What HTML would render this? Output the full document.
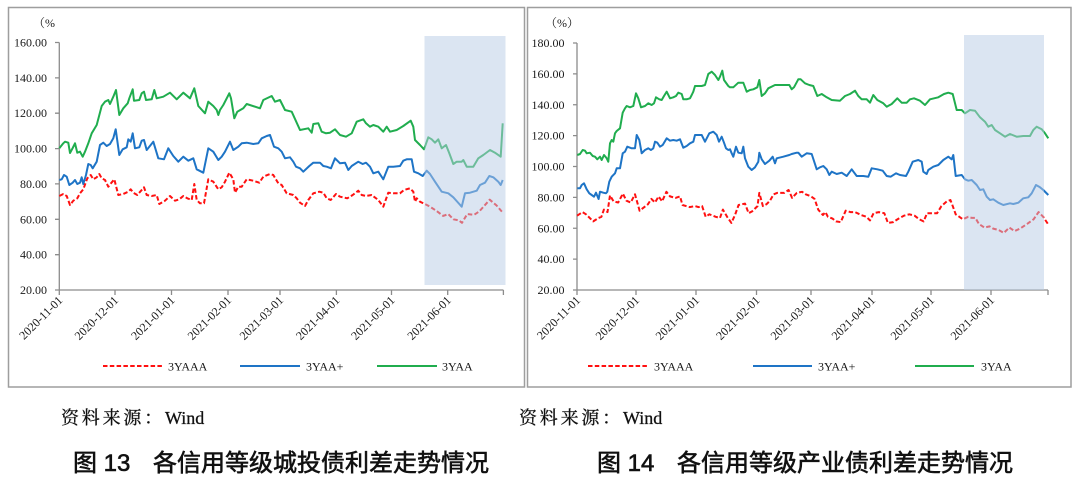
<!DOCTYPE html>
<html><head><meta charset="utf-8"><style>
html,body{margin:0;padding:0;background:#fff;}
svg{display:block;}
.t{font-family:"Liberation Serif","Noto Serif CJK SC",serif;font-size:12px;fill:#1a1a1a;}
.src{font-family:"Liberation Serif","Noto Serif CJK SC",serif;font-size:18px;fill:#111;stroke:#111;stroke-width:0.3px;}
.cap{font-family:"Liberation Sans","Noto Sans CJK SC",sans-serif;font-size:24px;fill:#111;stroke:#111;stroke-width:0.6px;}
</style></head><body>
<svg width="1080" height="477" viewBox="0 0 1080 477" xmlns="http://www.w3.org/2000/svg">
<rect width="1080" height="477" fill="#fff"/>
<!-- frames -->
<rect x="8.5" y="7.5" width="516" height="379.5" fill="none" stroke="#9e9e9e" stroke-width="1.5"/>
<rect x="527.5" y="7.5" width="543.5" height="379.5" fill="none" stroke="#9e9e9e" stroke-width="1.5"/>

<!-- LEFT CHART -->
<text class="t" x="33" y="27">（%</text>
<g stroke="#8c8c8c" stroke-width="1.3" fill="none">
<line x1="59.3" y1="42.5" x2="59.3" y2="290"/>
<line x1="59.3" y1="290" x2="503.4" y2="290"/>
<path d="M55,42.5H59.3M55,77.9H59.3M55,113.2H59.3M55,148.6H59.3M55,183.9H59.3M55,219.3H59.3M55,254.7H59.3M55,290H59.3"/>
<path d="M59.3,290V295M115,290V295M171.5,290V295M228,290V295M280,290V295M336.4,290V295M391.5,290V295M447.7,290V295M503.4,290V295"/>
</g>
<g class="t" text-anchor="end">
<text x="47" y="46.5">160.00</text><text x="47" y="81.9">140.00</text><text x="47" y="117.2">120.00</text><text x="47" y="152.6">100.00</text><text x="47" y="187.9">80.00</text><text x="47" y="223.3">60.00</text><text x="47" y="258.7">40.00</text><text x="47" y="294">20.00</text>
<text transform="translate(63.3,301) rotate(-45)">2020-11-01</text>
<text transform="translate(119,301) rotate(-45)">2020-12-01</text>
<text transform="translate(175.5,301) rotate(-45)">2021-01-01</text>
<text transform="translate(232,301) rotate(-45)">2021-02-01</text>
<text transform="translate(284,301) rotate(-45)">2021-03-01</text>
<text transform="translate(340.4,301) rotate(-45)">2021-04-01</text>
<text transform="translate(395.5,301) rotate(-45)">2021-05-01</text>
<text transform="translate(451.7,301) rotate(-45)">2021-06-01</text>
</g>
<g fill="none" stroke-width="2" stroke-linejoin="round">
<polyline stroke="#20ad4e" points="59.3,148.3 63.3,143.3 65,141.7 68.3,142.7 70,153 72.7,148 75,143.3 77.3,152.7 80,151.7 82.7,156.7 85,151.7 88.3,143.3 91.7,133.3 96.7,125 101.7,106 105,101.7 108.3,100 110,104 113.3,96.7 116,90 119.3,115 123.3,108.3 127.7,103.3 129.3,98.3 132.7,89.3 134,100.7 139.3,100 141.7,93.3 144,91.7 146,100 151.7,99.3 154.3,90 156.7,98.3 163.3,96.7 170,92.7 176.7,99.3 183.3,92.7 190,98.3 194.3,88.3 198.3,106 205,113.3 208.3,101.7 213.3,106 216.7,110 218.3,115 220,110 223.3,105 229.3,93.3 231,98.3 234.3,118.3 237.3,111.7 243.3,108.3 246.7,104 260,108.3 263.3,100 271.7,96 275,101.7 280,100 285,110 291.7,111.7 300,130 308.3,128.3 311.7,132.7 313.3,124 318.3,123.3 321.7,131.7 326,133.3 330,132.7 335,129.3 340,135 346,136.7 351.7,133.3 356.7,121.7 363.3,119.3 366,123.3 370,126.7 373.3,125 378.3,126.7 383.3,131.7 386.7,126.7 390,131.7 396.7,130 403.3,126 410.7,120.7 413.3,126.7 415,140 420,145 424,149.3 428.3,137.3 431.7,139.3 435,142.7 438.3,139.3 441.7,148.3 446,145 449.3,153.3 453.3,164 456.7,161.7 461.7,161.7 463.3,160 466.7,166.7 473.3,166.7 478.3,158.3 483.3,155 490,150 495,152.7 500.7,156.7 502.7,123.3"/>
<polyline stroke="#1e74c6" points="59.3,180 61.7,179.3 64,175 66.7,176.7 69.3,185 72.7,182.7 75,180 77.3,184 80,182.7 81.7,177.3 83.3,184 86,175 88.3,164 90.7,165 92.7,168.3 96.7,161.7 100,145 103.3,142.7 106.7,146 110,144 113.3,138.3 115.7,129.3 119.3,155 122.7,149.3 126.7,147.3 128.3,139.3 130.7,141.7 132.7,133.3 135,148.3 139.3,147.3 141.7,140.7 144,140 146.7,150 153.3,141.7 158.3,158.3 164,159.3 168.3,148.3 173.3,156 178.3,161.7 183.3,156.7 188.3,160.7 193.3,158.3 196.7,169.3 203.3,172.7 208.3,148.3 213.3,151.7 218.3,160 221.7,156.7 225,151.7 230,141.7 233.3,150 238.3,146.7 241.7,143.3 246.7,142.7 253.3,144 258.3,143.3 261.7,138.3 266.7,136 270,135 274,146.7 278.3,148.3 281.7,151.7 285,158.3 290,157.3 293.3,161.7 296,166.7 300,168.3 303.3,171.7 309.3,166 313.3,162.7 320,162.7 323.3,166 326.7,166.7 331,168.3 335,158.3 340,163.3 345,162.7 348.3,170 351.7,166 358.3,161.7 362.7,164 366,162.7 370,166.7 373.3,173.3 378.3,171.7 383.3,179.3 388.3,166.7 393.3,166.7 400,166 403.3,160.7 406.7,159.3 411.7,159.3 414,171.7 418.3,173.3 422.7,176 426.7,170.7 430,174 435,181.7 441.7,191.7 448.3,193.3 453.3,197.3 459.3,204 461.7,206.7 465,193.3 470,192.7 476.7,190.7 480,185 485,182.7 489.3,176 493.3,177.3 498.3,181.7 500.7,185 502.7,180"/>
<polyline stroke="#ff1010" stroke-dasharray="4.5,2.3" points="59.3,196 63.3,194 66.7,196 70,205 73.3,200.7 77.3,198.3 80,193.3 83.3,189.3 87.3,178.3 90.7,175 93.3,179.3 96.7,177.3 99.3,174 101.7,178.3 105,180 108.3,186.7 111,183.3 114.3,179.3 118.3,195 123.3,194 128.3,191.7 130.7,189.3 133.3,192.7 137.3,195 141.7,190 144,187.3 146.7,195 151.7,196 156.7,195 159.3,204 165,200.7 170,196 175,200.7 179.3,199.3 183.3,196 187.3,198.3 191.7,200 194.3,184 196.7,200 200,203.3 204,203.3 208.3,179.3 213.3,181.7 218.3,189.3 221.7,187.3 225,181.7 229.3,172.7 233.3,179.3 235,192.7 238.3,186.7 241.7,186.7 246.7,179.3 253.3,180.7 259.3,182.7 263.3,176.7 270,174 273.3,175 278.3,183.3 281.7,185 286.7,193.3 293.3,195 296.7,198.3 300,202.7 305,206 308.3,200 313.3,193.3 319.3,191.7 323.3,192.7 326.7,198.3 330.7,200 336,194 340,196.7 347.3,198.3 352.7,195 358.3,190.7 361.7,195 366,196 371.7,195 378.3,200 383.3,206.7 388.3,192.7 393.3,193.3 400,193.3 404,190 410,188.3 413.3,191.7 415,201.7 416.7,198.3 420,201.7 425.9,204.5 430,206.7 436.2,210.7 443.1,215.9 448.3,214.1 453.4,219.3 458.6,220.3 462,222.8 467.2,214.1 474.1,214.8 479.3,211.4 489.7,199.7 496.6,205.5 503.4,213.4"/>
</g>
<rect x="424.5" y="36" width="81" height="249" fill="rgb(184,204,229)" fill-opacity="0.5"/>
<!-- left legend -->
<line x1="103" y1="366" x2="163" y2="366" stroke="#ff1010" stroke-width="2" stroke-dasharray="4.5,2.3"/>
<text class="t" x="168" y="370.5">3YAAA</text>
<line x1="240" y1="366" x2="300" y2="366" stroke="#1e74c6" stroke-width="2"/>
<text class="t" x="306" y="370.5">3YAA+</text>
<line x1="377" y1="366" x2="437" y2="366" stroke="#20ad4e" stroke-width="2"/>
<text class="t" x="442" y="370.5">3YAA</text>

<!-- RIGHT CHART -->
<text class="t" x="545" y="27">（%）</text>
<g stroke="#8c8c8c" stroke-width="1.3" fill="none">
<line x1="577" y1="43" x2="577" y2="290"/>
<line x1="577" y1="290" x2="1048" y2="290"/>
<path d="M573,43H577M573,73.9H577M573,104.75H577M573,135.6H577M573,166.5H577M573,197.4H577M573,228.25H577M573,259.1H577M573,290H577"/>
<path d="M577,290V295M636,290V295M696,290V295M756.5,290V295M811,290V295M872,290V295M931,290V295M991,290V295M1048,290V295"/>
</g>
<g class="t" text-anchor="end">
<text x="564.5" y="47">180.00</text><text x="564.5" y="77.9">160.00</text><text x="564.5" y="108.75">140.00</text><text x="564.5" y="139.6">120.00</text><text x="564.5" y="170.5">100.00</text><text x="564.5" y="201.4">80.00</text><text x="564.5" y="232.25">60.00</text><text x="564.5" y="263.1">40.00</text><text x="564.5" y="294">20.00</text>
<text transform="translate(581,301) rotate(-45)">2020-11-01</text>
<text transform="translate(640,301) rotate(-45)">2020-12-01</text>
<text transform="translate(700,301) rotate(-45)">2021-01-01</text>
<text transform="translate(760.5,301) rotate(-45)">2021-02-01</text>
<text transform="translate(815,301) rotate(-45)">2021-03-01</text>
<text transform="translate(876,301) rotate(-45)">2021-04-01</text>
<text transform="translate(935,301) rotate(-45)">2021-05-01</text>
<text transform="translate(995,301) rotate(-45)">2021-06-01</text>
</g>
<g fill="none" stroke-width="2" stroke-linejoin="round">
<polyline stroke="#20ad4e" points="577.3,155 580,154 582.7,150 585,150.7 586.7,153.3 590,152.7 592.7,156 595,156.7 597.3,159.3 600,156.7 601.7,160 604,155 606.7,158.3 608.3,161.7 610,143.3 611.7,140 613.3,141.7 615,133.3 616.7,131 620,128.3 622.7,112.7 625,108.3 626.7,106 630,107.3 633.3,106 636,93.3 638.3,98.3 641,107.3 645,106 648.3,103.3 651.7,105 654,103.3 656,97.3 659.3,99.3 661.7,100 664,96 666.7,91.7 670,98.3 673.3,97.3 676,96 678.3,92.7 681.7,94 683.3,99.3 686.7,99.3 690,98.3 691.7,95 693.3,91.7 695,86 701.7,86 705,85 708.3,74 711.7,71.7 715,75 718.3,80 720,76.7 722.3,70.7 724,80 728.3,86 730,87.3 733.3,87.3 738.3,82.7 743.3,82.7 746.7,91.7 750,90 753.3,89.3 757.3,87.3 759.3,80 761.7,96 765,93.3 768.3,88.3 775,85 783.3,85 789.3,85 791.7,89.3 794,87.3 798.3,79.3 800.7,79.3 805,83.3 809.3,85 813.3,86 817.3,96 821.7,94 826.7,97.3 831.7,100 840,100.7 845,96 850,94 855,90.7 858.3,96 861.7,99.3 866.7,99.3 870,102.7 873.3,95 877.3,100 883.3,103.3 886.7,106.7 891.7,104 897.3,98.3 901.7,102.7 906.7,102.7 910,99.3 914,98.3 920,100.7 925,105 930,99.3 938.3,97.3 944,94 948.3,92.7 952.7,94 956.7,110 961.7,110 965,113.3 970,110 975,110.7 980,117.3 985,121.7 988.3,126.7 991.7,125 995,130 1000,133.3 1005,136.7 1010,134 1016.7,136.7 1023.3,136 1030,136 1033.3,130 1036.7,126.7 1041.7,129.3 1045,133.3 1048.3,138.3"/>
<polyline stroke="#1e74c6" points="577.3,188.3 580,188.3 581.7,185 584,183.3 586.7,189.3 589.3,193.3 591.7,195 594,196.7 596,192.7 598.6,199 600,191.7 603.3,192.7 606,193.3 607.3,191.7 609.3,181.7 611.7,176.7 615,173.3 616.7,168.3 620,168.3 622.7,153.3 625,151.7 627.3,146.7 631.7,148.3 635,148.3 636.7,135 639.3,140 641.7,153.3 645,150 648.3,148.3 651,150 653.3,148.3 655,141.7 657.3,142.7 660,146.7 662.7,145 666.7,138.3 670,140.7 673.3,140 676.7,140.7 680,139.3 683.3,147.7 686.7,146 690,143.3 693.3,141.7 695,135 701.7,135 705,141.7 709.3,133.3 713.3,131.7 716.7,135 719,141.7 721.7,136.7 724,142.7 726,148.3 728.3,150 730,149.3 731.7,153.3 733.3,156.7 736,146.7 738.3,152.7 741.7,153.3 743.3,146.7 745,158.3 748.3,166.7 751.7,170 755,167.3 758.3,161.7 759.3,152.7 761.7,159.3 765,164 769.3,160.7 772.7,156.7 775,163.3 776.7,158.3 783.3,156.7 789.3,155 791.7,154 796.7,152.7 798.3,152.7 801.7,156.7 806.7,153.3 811.7,154 816.7,169.3 820,167.3 823.3,166 826.7,169.3 829.3,175 831.7,171.7 836.7,174 841.7,172.7 846.7,176 851.7,169.3 856.7,176 863.3,176 868.3,176.7 871.7,168.3 877.3,169.3 882.7,170.7 886.7,176 890.7,176.7 896,173.3 900,175 906,176 908.3,171.7 912.7,161.7 918.3,160 921.7,161.7 923.3,171.7 926.7,174 928.3,170 933.3,166.7 938.3,165 943.3,160 948.3,156.7 951.7,159.3 953.3,155 955.7,176 961.7,175 965,179.3 968.3,180.7 971.7,180 976.7,185 980,190 983.3,189.3 986.7,196.7 990,200 993.3,199.3 998.3,202.7 1003.3,205 1010,203.3 1013.3,204 1018.3,202.7 1023.3,198.3 1028.3,197.3 1031.7,193.3 1036,185 1040,187.3 1043.3,190 1048.3,195"/>
<polyline stroke="#ff1010" stroke-dasharray="4.5,2.3" points="577.1,215.7 582.5,212.1 586,214.3 593.2,221.4 598.6,217.9 601.4,216.8 603.9,209.6 607.5,212.1 610,195.4 613.6,201.4 618.2,202.5 622.9,193.6 626.4,200.7 630.7,202.5 635,194.3 639.6,210.7 643.2,207.9 647.9,204.3 651.4,198.9 655,202.5 658.6,196.4 662.1,201.4 666.4,191.8 670,196.4 675.4,197.9 680,196.4 682.5,205 689.6,207.1 695,206.1 698.6,207.1 702.1,206.1 705.7,216.8 709.3,214.3 715.7,216.8 720,217.9 722.9,209.6 727.1,216.8 731.4,222.9 735,215 738.6,205 745,203.6 748.6,213.2 752.1,211.4 757.5,206.1 759.3,192.9 762.9,206.1 766.4,204.3 770,200.7 773.6,194.3 777.1,192.9 784.3,192.9 788.6,190 792.1,197.9 796.8,192.9 802.1,191.8 805.7,194.3 811.1,196.4 814.6,198.9 818.2,209.6 822.9,215 825.4,212.1 827.9,216.8 832.5,218.6 836.1,221.4 840.7,222.1 845.7,210.7 850.4,212.1 855,212.1 861.1,215 866.4,216.8 870,220.4 873.6,213.2 878.9,212.1 884.3,213.2 887.9,222.9 893.2,222.1 898.6,218.6 903.9,215.7 909.3,214.3 914.6,215.7 919.3,219.3 923.6,221.4 927.1,213.2 932.5,213.2 937.1,213.2 941.4,206.1 946.8,201.4 950.4,200 952.1,204.3 955.7,214.3 962.9,219.3 968.2,216.8 971.8,217.9 975.4,217.9 978.9,223.9 984.3,227.5 989.6,226.4 993.2,228.6 998.6,230 1003.9,232.9 1009.3,227.5 1014.6,231.1 1020,228.6 1027.1,223.9 1033.6,219.3 1038.6,212.1 1043.2,216.8 1047.9,223.9"/>
</g>
<rect x="964" y="35" width="80" height="255" fill="rgb(184,204,229)" fill-opacity="0.5"/>
<!-- right legend -->
<line x1="588" y1="366" x2="648" y2="366" stroke="#ff1010" stroke-width="2" stroke-dasharray="4.5,2.3"/>
<text class="t" x="654" y="370.5">3YAAA</text>
<line x1="753" y1="366" x2="812" y2="366" stroke="#1e74c6" stroke-width="2"/>
<text class="t" x="818" y="370.5">3YAA+</text>
<line x1="915" y1="366" x2="974" y2="366" stroke="#20ad4e" stroke-width="2"/>
<text class="t" x="981" y="370.5">3YAA</text>

<!-- source and captions -->
<text class="src" x="61" y="424" letter-spacing="2.8">资料来源：</text>
<text class="src" x="165" y="424">Wind</text>
<text class="src" x="519" y="424" letter-spacing="2.8">资料来源：</text>
<text class="src" x="623" y="424">Wind</text>
<text class="cap" x="73" y="471">图 13</text>
<text class="cap" x="153" y="471">各信用等级城投债利差走势情况</text>
<text class="cap" x="597" y="471">图 14</text>
<text class="cap" x="677" y="471">各信用等级产业债利差走势情况</text>
</svg>
</body></html>
